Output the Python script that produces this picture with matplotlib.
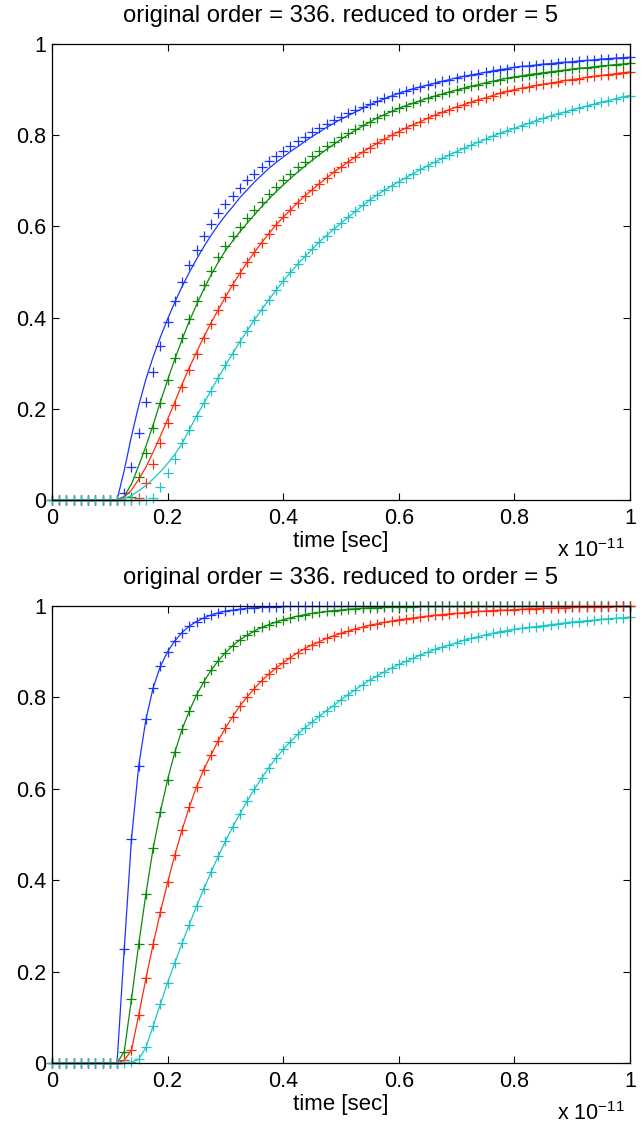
import matplotlib
matplotlib.use("Agg")
import matplotlib.pyplot as plt

plt.rcParams['font.family'] = ['Liberation Sans', 'DejaVu Sans']
plt.rcParams['mathtext.fontset'] = 'custom'
plt.rcParams['mathtext.rm'] = 'Liberation Sans'
plt.rcParams['mathtext.it'] = 'Liberation Sans'

# time axis in units of 1e-11 s
time_e11 = [0.0, 0.0125, 0.025, 0.0375, 0.05, 0.0625, 0.075, 0.0875, 0.1, 0.1125,
            0.125, 0.1375, 0.15, 0.1625, 0.175, 0.1875, 0.2, 0.2125, 0.225, 0.2375,
            0.25, 0.2625, 0.275, 0.2875, 0.3, 0.3125, 0.325, 0.3375, 0.35, 0.3625,
            0.375, 0.3875, 0.4, 0.4125, 0.425, 0.4375, 0.45, 0.4625, 0.475, 0.4875,
            0.5, 0.5125, 0.525, 0.5375, 0.55, 0.5625, 0.575, 0.5875, 0.6, 0.6125,
            0.625, 0.6375, 0.65, 0.6625, 0.675, 0.6875, 0.7, 0.7125, 0.725, 0.7375,
            0.75, 0.7625, 0.775, 0.7875, 0.8, 0.8125, 0.825, 0.8375, 0.85, 0.8625,
            0.875, 0.8875, 0.9, 0.9125, 0.925, 0.9375, 0.95, 0.9625, 0.975, 0.9875,
            1.0]

Z10 = [0.0] * 10

# ---------------- top panel: original (markers) ----------------
top_orig_blue = Z10 + [
    .015, .073, .146, .216, .280, .338, .390, .437, .479, .516,
    .549, .579, .605, .629, .649, .667, .685, .701, .716, .730,
    .744, .755, .766, .777, .787, .797, .807, .816, .825, .833,
    .841, .848, .855, .862, .869, .875, .881, .887, .892, .897,
    .902, .906, .910, .914, .918, .922, .926, .929, .932, .935,
    .938, .941, .944, .946, .949, .951, .952, .954, .956, .957,
    .959, .960, .961, .963, .964, .965, .967, .968, .969, .970,
    .971]
top_orig_green = Z10 + [
    0.0, .007, .051, .104, .157, .212, .263, .311, .356, .398,
    .436, .471, .503, .532, .558, .579, .599, .618, .636, .654,
    .671, .687, .702, .716, .730, .742, .754, .765, .776, .786,
    .796, .805, .814, .822, .830, .838, .845, .852, .859, .865,
    .870, .876, .881, .886, .890, .895, .899, .903, .907, .911,
    .915, .918, .922, .925, .928, .930, .933, .935, .937, .939,
    .941, .943, .945, .947, .948, .950, .952, .953, .955, .956,
    .958]
top_orig_red = Z10 + [
    0.0, 0.0, .004, .037, .080, .124, .168, .208, .247, .285,
    .321, .355, .387, .417, .445, .472, .497, .521, .543, .564,
    .584, .603, .620, .636, .652, .667, .680, .694, .706, .719,
    .730, .742, .752, .763, .773, .782, .791, .800, .808, .816,
    .823, .830, .837, .844, .850, .856, .862, .867, .872, .878,
    .882, .887, .892, .896, .900, .903, .906, .909, .912, .914,
    .917, .920, .922, .924, .927, .929, .931, .933, .935, .937,
    .939]
top_orig_cyan = Z10 + [
    0.0, 0.0, 0.0, 0.0, .004, .029, .060, .091, .124, .154,
    .184, .212, .240, .268, .295, .321, .347, .371, .395, .417,
    .439, .460, .480, .499, .517, .534, .550, .566, .580, .594,
    .607, .620, .633, .646, .658, .669, .679, .689, .698, .707,
    .716, .725, .733, .741, .749, .757, .764, .771, .778, .785,
    .791, .798, .804, .810, .815, .821, .826, .832, .837, .842,
    .847, .851, .856, .860, .864, .868, .872, .876, .880, .884,
    .887]

# ---------------- top panel: reduced model (lines) ----------------
top_red_blue = Z10 + [
    .065, .140, .207, .265, .314, .357, .397, .434, .468, .499,
    .528, .555, .580, .603, .624, .643, .663, .680, .697, .712,
    .727, .740, .752, .764, .775, .786, .797, .807, .817, .826,
    .835, .843, .851, .859, .867, .873, .880, .886, .892, .897,
    .902, .906, .910, .914, .918, .922, .926, .929, .932, .935,
    .938, .941, .944, .946, .949, .951, .952, .954, .956, .957,
    .959, .960, .961, .963, .964, .965, .967, .968, .969, .970,
    .971]
top_red_green = Z10 + [
    .008, .035, .075, .118, .165, .215, .263, .309, .352, .392,
    .428, .462, .493, .521, .547, .568, .588, .607, .625, .643,
    .660, .676, .691, .705, .719, .732, .745, .757, .769, .780,
    .791, .801, .811, .820, .829, .838, .845, .852, .859, .865,
    .870, .876, .881, .886, .890, .895, .899, .903, .907, .911,
    .915, .918, .922, .925, .928, .930, .933, .935, .937, .939,
    .941, .943, .945, .947, .948, .950, .952, .953, .955, .956,
    .958]
top_red_red = Z10 + [
    .006, .022, .045, .072, .105, .140, .177, .215, .254, .290,
    .324, .357, .388, .417, .445, .472, .497, .521, .543, .564,
    .584, .603, .620, .636, .652, .667, .680, .694, .706, .719,
    .730, .742, .752, .763, .773, .782, .791, .800, .808, .816,
    .823, .830, .837, .844, .850, .856, .862, .867, .872, .878,
    .882, .887, .892, .896, .900, .903, .906, .909, .912, .914,
    .917, .920, .922, .924, .927, .929, .931, .933, .935, .937,
    .939]
top_red_cyan = Z10 + [
    .003, .010, .020, .032, .046, .062, .080, .100, .124, .154,
    .184, .212, .240, .268, .295, .321, .347, .371, .395, .417,
    .439, .460, .480, .499, .517, .534, .550, .566, .580, .594,
    .607, .620, .633, .646, .658, .669, .679, .689, .698, .707,
    .716, .725, .733, .741, .749, .757, .764, .771, .778, .785,
    .791, .798, .804, .810, .815, .821, .826, .832, .837, .842,
    .847, .851, .856, .860, .864, .868, .872, .876, .880, .884,
    .887]

# ---------------- bottom panel (original and reduced coincide) ----------------
bot_blue = Z10 + [
    .25, .49, .65, .752, .821, .868, .900, .924, .942, .956,
    .966, .974, .980, .985, .989, .991, .993, .995, .996, .997,
    .998, .998, .999, .999, 1.0, 1.0, 1.0, 1.0, 1.0, 1.0,
    1.0, 1.0, 1.0, 1.0, 1.0, 1.0, 1.0, 1.0, 1.0, 1.0,
    1.0, 1.0, 1.0, 1.0, 1.0, 1.0, 1.0, 1.0, 1.0, 1.0,
    1.0, 1.0, 1.0, 1.0, 1.0, 1.0, 1.0, 1.0, 1.0, 1.0,
    1.0, 1.0, 1.0, 1.0, 1.0, 1.0, 1.0, 1.0, 1.0, 1.0,
    1.0]
bot_green = Z10 + [
    .025, .14, .26, .37, .47, .55, .62, .68, .73, .77,
    .805, .834, .859, .880, .898, .913, .926, .936, .945, .953,
    .959, .965, .970, .974, .978, .981, .984, .986, .988, .990,
    .991, .993, .994, .995, .996, .996, .997, .997, .998, .998,
    .998, .999, .999, .999, .999, .999, .999, .999, .999, .999,
    1.0, 1.0, 1.0, 1.0, 1.0, 1.0, 1.0, 1.0, 1.0, 1.0,
    1.0, 1.0, 1.0, 1.0, 1.0, 1.0, 1.0, 1.0, 1.0, 1.0,
    1.0]
bot_red = Z10 + [
    .006, .028, .105, .185, .26, .33, .395, .455, .51, .56,
    .604, .642, .674, .705, .733, .758, .781, .801, .819, .836,
    .851, .864, .876, .887, .898, .907, .915, .922, .929, .935,
    .940, .945, .950, .954, .958, .961, .964, .967, .970, .972,
    .974, .976, .978, .980, .981, .983, .984, .985, .987, .988,
    .989, .990, .991, .991, .992, .993, .994, .994, .995, .995,
    .996, .996, .997, .997, .997, .998, .998, .998, .999, .999,
    .999]
bot_cyan = Z10 + [
    0.0, .002, .008, .034, .081, .129, .176, .219, .262, .303,
    .343, .381, .417, .452, .485, .516, .545, .573, .599, .623,
    .646, .667, .686, .703, .719, .733, .746, .759, .771, .782,
    .795, .806, .817, .828, .838, .847, .856, .864, .872, .879,
    .886, .893, .899, .905, .910, .915, .920, .925, .929, .933,
    .937, .940, .944, .946, .949, .951, .953, .955, .957, .959,
    .961, .963, .965, .966, .968, .969, .971, .972, .973, .974,
    .976]

colors = ['#1a35ff', '#0c8a0c', '#ff2a0a', '#1cc4c4']
title_text = 'original order = 336. reduced to order = 5'
xtick_vals = [0, 0.2, 0.4, 0.6, 0.8, 1.0]
xtick_labels = ['0', '0.2', '0.4', '0.6', '0.8', '1']
ytick_vals = [0, 0.2, 0.4, 0.6, 0.8, 1.0]
ytick_labels = ['0', '0.2', '0.4', '0.6', '0.8', '1']

panels = [
    ([top_red_blue, top_red_green, top_red_red, top_red_cyan],
     [top_orig_blue, top_orig_green, top_orig_red, top_orig_cyan]),
    ([bot_blue, bot_green, bot_red, bot_cyan],
     [bot_blue, bot_green, bot_red, bot_cyan]),
]

W, H = 644, 1125
fig = plt.figure(figsize=(W / 100, H / 100), dpi=100)
rects = [[52 / W, 1 - 500 / H, 578 / W, 456 / H],
         [52 / W, 1 - 1063 / H, 578 / W, 457 / H]]

for rect, (lines, marks) in zip(rects, panels):
    ax = fig.add_axes(rect)
    for c, yl, ym in zip(colors, lines, marks):
        ax.plot(time_e11, yl, '-', color=c, lw=0.9)
        ax.plot(time_e11, ym, '+', color=c, ms=7.5, mew=0.9, clip_on=False)
    ax.set_xlim(0, 1)
    ax.set_ylim(0, 1)
    ax.set_xticks(xtick_vals)
    ax.set_xticklabels(xtick_labels)
    ax.set_yticks(ytick_vals)
    ax.set_yticklabels(ytick_labels)
    ax.tick_params(direction='in', top=True, right=True, length=5, width=0.8,
                   labelsize=15.5, pad=4)
    ax.tick_params(axis='x', pad=6)
    for s in ax.spines.values():
        s.set_linewidth(0.9)
    ax.text(0.5, 1.061, title_text, transform=ax.transAxes,
            fontsize=17.2, ha='center', va='center')
    ax.set_xlabel('time [sec]', fontsize=16)
    ax.xaxis.set_label_coords(0.5, -0.090)
    ax.xaxis.label.set_verticalalignment('center')
    ax.text(0.990, -0.111, r'x 10$^{-11}$', transform=ax.transAxes,
            fontsize=15.5, ha='right', va='center')

fig.savefig('out.png', dpi=100)
